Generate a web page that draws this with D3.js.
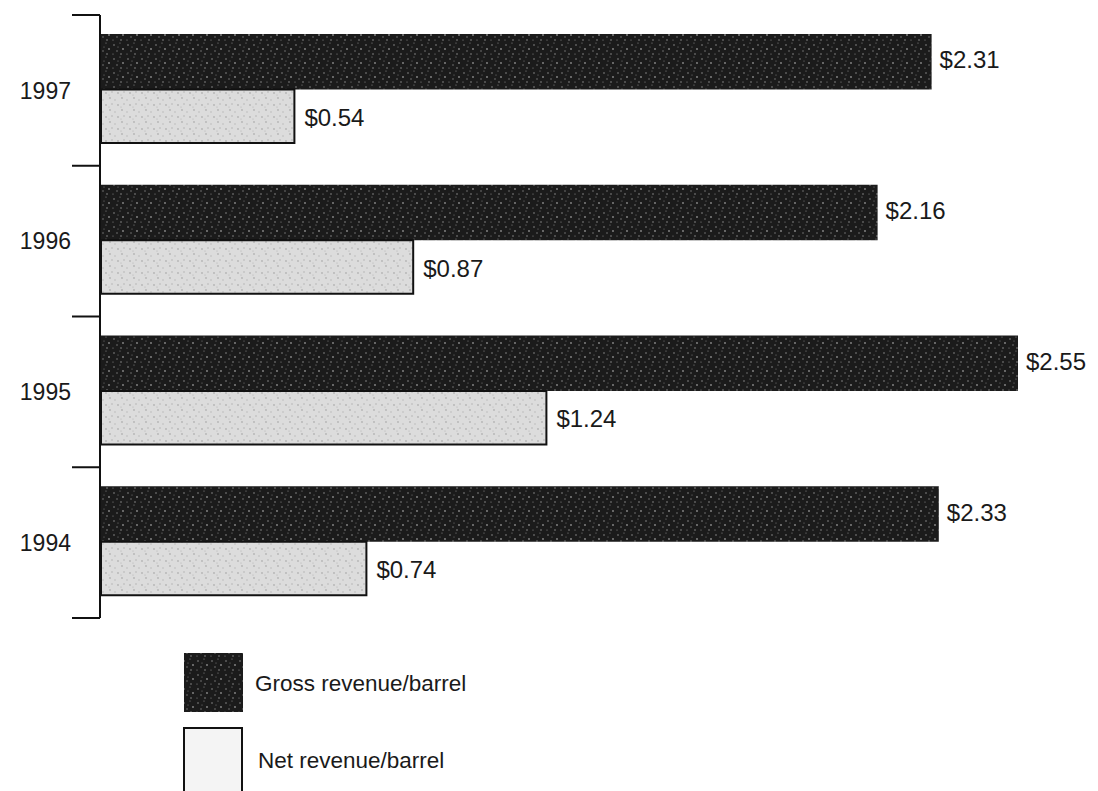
<!DOCTYPE html>
<html><head><meta charset="utf-8">
<script src="https://cdn.jsdelivr.net/npm/d3@7"></script>
<style>
html,body{margin:0;padding:0;background:#fff;}
text{font-family:"Liberation Sans",Arial,Helvetica,sans-serif;fill:#1a1a1a;}
</style></head>
<body>
<svg id="chart" width="1098" height="791"></svg>
<script>
const years = ["1997", "1996", "1995", "1994"];
const seriesNames = ["Gross revenue/barrel", "Net revenue/barrel"];
const gross = [2.31, 2.16, 2.55, 2.33];
const net = [0.54, 0.87, 1.24, 0.74];

const svg = d3.select("#chart");
const defs = svg.append("defs");

// speckled textures
const pg = defs.append("pattern").attr("id","pGross").attr("patternUnits","userSpaceOnUse").attr("width",14).attr("height",14);
pg.append("rect").attr("width",14).attr("height",14).attr("fill","#1b1b1b");
[[2,3,0.8],[8,1,0.6],[11,7,0.9],[5,9,0.7],[1,12,0.6],[9,12,0.8],[6,5,0.5]].forEach(d=>
  pg.append("circle").attr("cx",d[0]).attr("cy",d[1]).attr("r",d[2]).attr("fill","#8a8a8a"));
const pn = defs.append("pattern").attr("id","pNet").attr("patternUnits","userSpaceOnUse").attr("width",12).attr("height",12);
pn.append("rect").attr("width",12).attr("height",12).attr("fill","#dcdcdc");
[[2,2,0.9],[7,4,0.7],[10,9,0.9],[4,8,0.8],[1,11,0.6]].forEach(d=>
  pn.append("circle").attr("cx",d[0]).attr("cy",d[1]).attr("r",d[2]).attr("fill","#b4b4b4"));

const x = d3.scaleLinear().domain([0, 2.55]).range([100, 1018]);
const y = d3.scaleBand().domain(years).range([15, 618]).padding(0);
const inner = d3.scaleBand().domain(seriesNames).range([19, 130]).padding(0);

// axis line and boundary ticks
const g = svg.append("g");
g.append("line").attr("x1",100).attr("x2",100).attr("y1",y.range()[0]).attr("y2",y.range()[1])
  .attr("stroke","#111").attr("stroke-width",2);
const bounds = years.map(d=>y(d)).concat([y(years[years.length-1]) + y.bandwidth()]);
g.selectAll("line.tick").data(bounds).join("line").attr("class","tick")
  .attr("x1",72).attr("x2",100).attr("y1",d=>d).attr("y2",d=>d)
  .attr("stroke","#111").attr("stroke-width",2);

// year labels
g.selectAll("text.year").data(years).join("text").attr("class","year")
  .attr("x",71).attr("y",d=>y(d)+y.bandwidth()/2).attr("dy","0.36em")
  .attr("text-anchor","end").attr("font-size",23).text(d=>d);

const rows = years.map((yr,i)=>({yr, gross:gross[i], net:net[i]}));

// gross bars
svg.selectAll("rect.gross").data(rows).join("rect").attr("class","gross")
  .attr("x",x(0)+1).attr("y",d=>y(d.yr)+inner(seriesNames[0]))
  .attr("width",d=>x(d.gross)-x(0)-1).attr("height",inner.bandwidth())
  .attr("fill","url(#pGross)");
// net bars
svg.selectAll("rect.net").data(rows).join("rect").attr("class","net")
  .attr("x",x(0)+1).attr("y",d=>y(d.yr)+inner(seriesNames[1]))
  .attr("width",d=>x(d.net)-x(0)-1).attr("height",inner.bandwidth()-2)
  .attr("fill","url(#pNet)").attr("stroke","#111").attr("stroke-width",2);

const fmt = d=>"$"+d3.format(".2f")(d);
svg.selectAll("text.gl").data(rows).join("text").attr("class","gl")
  .attr("x",d=>x(d.gross)+8).attr("y",d=>y(d.yr)+inner(seriesNames[0])+inner.bandwidth()/2-2)
  .attr("dy","0.36em").attr("font-size",24).text(d=>fmt(d.gross));
svg.selectAll("text.nl").data(rows).join("text").attr("class","nl")
  .attr("x",d=>x(d.net)+10).attr("y",d=>y(d.yr)+inner(seriesNames[1])+inner.bandwidth()/2)
  .attr("dy","0.36em").attr("font-size",24).text(d=>fmt(d.net));

// legend
const leg = svg.append("g");
const legY = [653, 728];
leg.append("rect").attr("x",184).attr("y",legY[0]).attr("width",59).attr("height",59).attr("fill","url(#pGross)");
leg.append("rect").attr("x",184).attr("y",legY[1]).attr("width",58).attr("height",70)
  .attr("fill","#f4f4f4").attr("stroke","#111").attr("stroke-width",2);
leg.selectAll("text").data(seriesNames).join("text")
  .attr("x",(d,i)=>i===0?255:258).attr("y",(d,i)=>i===0?683:760).attr("dy","0.36em")
  .attr("font-size",22.5).text(d=>d);
</script>
</body></html>
